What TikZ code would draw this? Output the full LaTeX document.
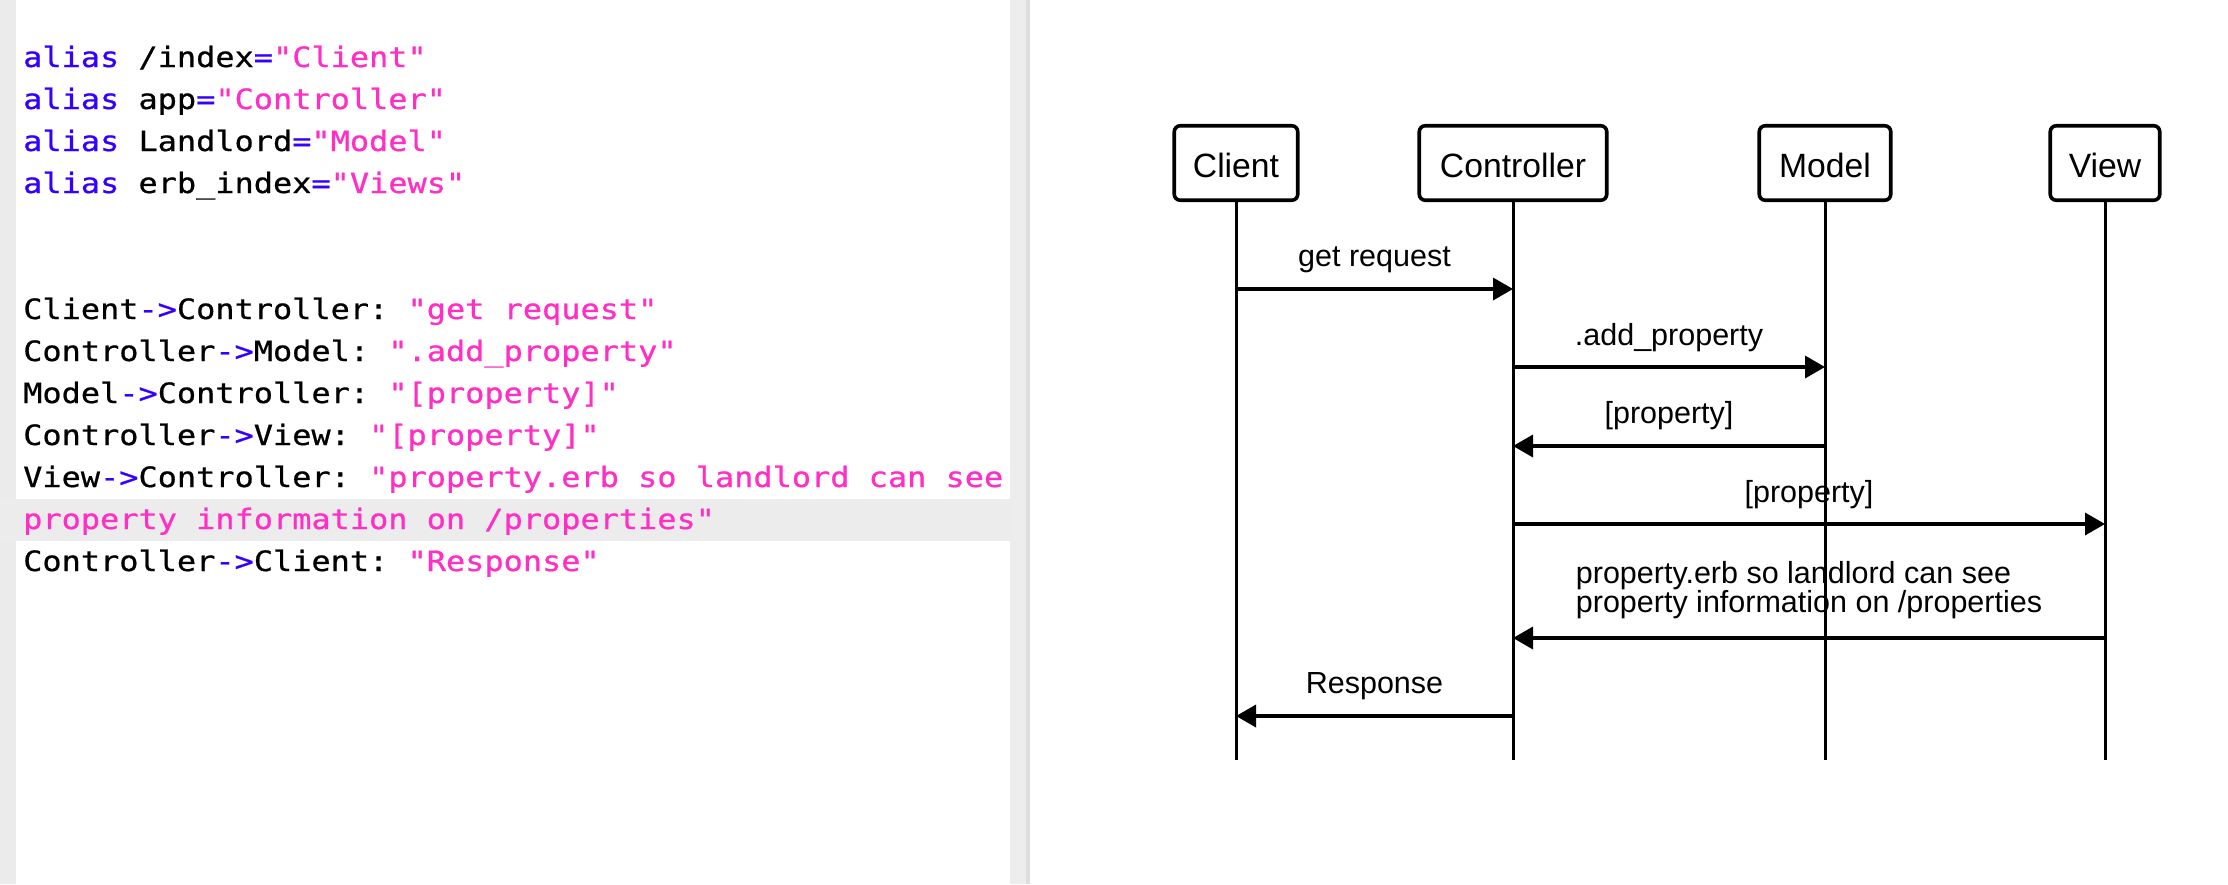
\documentclass[tikz,border=0pt]{standalone}
\usepackage{fontspec}
\setmainfont{Liberation Sans}
\setmonofont[FakeStretch=1.14,FakeBold=0.7]{DejaVu Sans Mono}
\usetikzlibrary{arrows.meta}
\definecolor{kwblue}{HTML}{3500FF}
\definecolor{strpink}{HTML}{FF2EC4}
\definecolor{guttergray}{HTML}{EBEBEB}
\definecolor{hlgray}{HTML}{ECECEC}
\definecolor{divgray}{HTML}{EDEDED}
\definecolor{divdark}{HTML}{DEDEDE}
\newcommand{\codekw}[1]{\textcolor{kwblue}{#1}}
\newcommand{\codestr}[1]{\textcolor{strpink}{#1}}
\tikzset{
  codeline/.style={anchor=base west, inner sep=0pt, font=\ttfamily\fontsize{28}{42}\selectfont},
  actor/.style={draw, line width=3.6pt, rounded corners=6pt, minimum height=74.5pt, inner sep=0pt, text height=29pt, text depth=0pt, fill=white, font=\fontsize{33.7}{40}\selectfont},
  lifeline/.style={line width=3pt},
  msg/.style={line width=3.6pt, -{Triangle[length=20pt, width=22pt]}},
  lbl/.style={anchor=base, inner sep=0pt, font=\fontsize{30.5}{29.5}\selectfont}
}
\begin{document}
\begin{tikzpicture}[x=1pt,y=-1pt]
\useasboundingbox (0,0) rectangle (2228,884);
\fill[white] (0,0) rectangle (2228,884);
% editor panel
\fill[guttergray] (0,0) rectangle (16,884);
\fill[hlgray] (0,499) rectangle (1010,541);
\fill[divgray] (1010,0) rectangle (1026,884);
\fill[divdark] (1026,0) rectangle (1030,884);
% code
\node[codeline] (l1) at (23,67) {\codekw{alias} /index\codekw{=}\codestr{"Client"}};
\node[codeline] (l2) at (23,109) {\codekw{alias} app\codekw{=}\codestr{"Controller"}};
\node[codeline] (l3) at (23,151) {\codekw{alias} Landlord\codekw{=}\codestr{"Model"}};
\node[codeline] (l4) at (23,193) {\codekw{alias} erb\_index\codekw{=}\codestr{"Views"}};
\node[codeline] (l7) at (23,319) {Client\codekw{->}Controller: \codestr{"get request"}};
\node[codeline] (l8) at (23,361) {Controller\codekw{->}Model: \codestr{".add\_property"}};
\node[codeline] (l9) at (23,403) {Model\codekw{->}Controller: \codestr{"[property]"}};
\node[codeline] (l10) at (23,445) {Controller\codekw{->}View: \codestr{"[property]"}};
\node[codeline] (l11) at (23,487) {View\codekw{->}Controller: \codestr{"property.erb so landlord can see}};
\node[codeline] (l12) at (23,529) {\codestr{property information on /properties"}};
\node[codeline] (l13) at (23,571) {Controller\codekw{->}Client: \codestr{"Response"}};
% actors
\node[actor, minimum width=123.5pt] (client) at (1236,163) {Client};
\node[actor, minimum width=187.5pt] (controller) at (1513,163) {Controller};
\node[actor, minimum width=131.5pt] (model) at (1825,163) {Model};
\node[actor, minimum width=109.5pt] (view) at (2105,163) {View};
\coordinate (clientend) at (1236,760);
\coordinate (controllerend) at (1513,760);
\coordinate (modelend) at (1825,760);
\coordinate (viewend) at (2105,760);
\draw[lifeline] (client.south) -- (clientend);
\draw[lifeline] (controller.south) -- (controllerend);
\draw[lifeline] (model.south) -- (modelend);
\draw[lifeline] (view.south) -- (viewend);
% messages
\draw[msg] (client |- 0,289) -- (controller |- 0,289);
\node[lbl] (t1) at (1374.5,266) {get request};
\draw[msg] (controller |- 0,367) -- (model |- 0,367);
\node[lbl] (t2) at (1669,345) {.add\_property};
\draw[msg] (model |- 0,446) -- (controller |- 0,446);
\node[lbl] (t3) at (1669,423) {[property]};
\draw[msg] (controller |- 0,524) -- (view |- 0,524);
\node[lbl] (t4) at (1809,502) {[property]};
\draw[msg] (view |- 0,638) -- (controller |- 0,638);
\node[lbl, anchor=center, align=left] (t5) at (1809,590) {property.erb so landlord can see\\property information on /properties};
\draw[msg] (controller |- 0,716) -- (client |- 0,716);
\node[lbl] (t6) at (1374.5,693) {Response};
\end{tikzpicture}
\end{document}
